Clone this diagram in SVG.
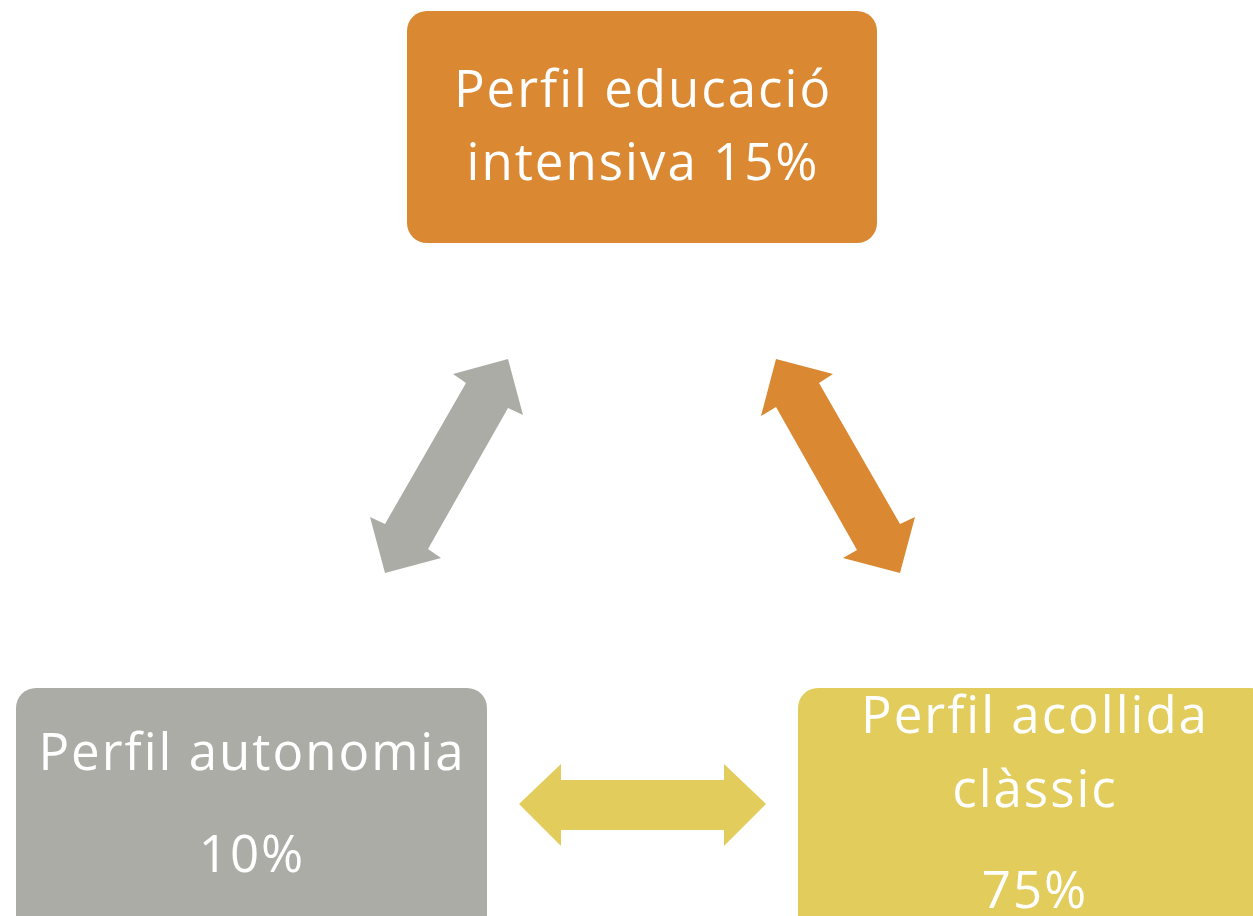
<svg xmlns="http://www.w3.org/2000/svg" width="1253" height="916" viewBox="0 0 1253 916">
<style>
.lbl{font-family:"Open Sans","Liberation Sans",sans-serif;font-size:51px;letter-spacing:2px;fill:#ffffff;text-anchor:middle}
.orange{fill:#DA8831}
.gray{fill:#ACACA7}
.yellow{fill:#E2CC5C}
</style>
<rect width="1253" height="916" fill="#ffffff"/>
<g id="connectors">
<polygon class="gray" points="508,359 523,415 508,408 428,549 441,558 385,573 370,517 385,524 466,383 453,374"/>
<polygon class="orange" points="776,359 833,374 819,383 900,524 915,517 900,573 843,558 857,550 776,407 761,416"/>
<polygon class="yellow" points="519,804 561,764 561,780 724,780 724,764 766,804 724,846 724,830 561,830 561,846"/>
</g>
<g id="node-educacio">
<rect class="orange" x="407" y="11" width="470" height="232" rx="20"/>
<text class="lbl" x="643" y="107">Perfil educació</text>
<text class="lbl" x="643" y="180">intensiva 15%</text>
</g>
<g id="node-autonomia">
<rect class="gray" x="16" y="688" width="471" height="250" rx="20"/>
<text class="lbl" x="252" y="770">Perfil autonomia</text>
<text class="lbl" x="252" y="872">10%</text>
</g>
<g id="node-acollida">
<rect class="yellow" x="798" y="688" width="472" height="250" rx="20"/>
<text class="lbl" x="1035" y="733">Perfil acollida</text>
<text class="lbl" x="1035" y="807">clàssic</text>
<text class="lbl" x="1035" y="908">75%</text>
</g>
</svg>
